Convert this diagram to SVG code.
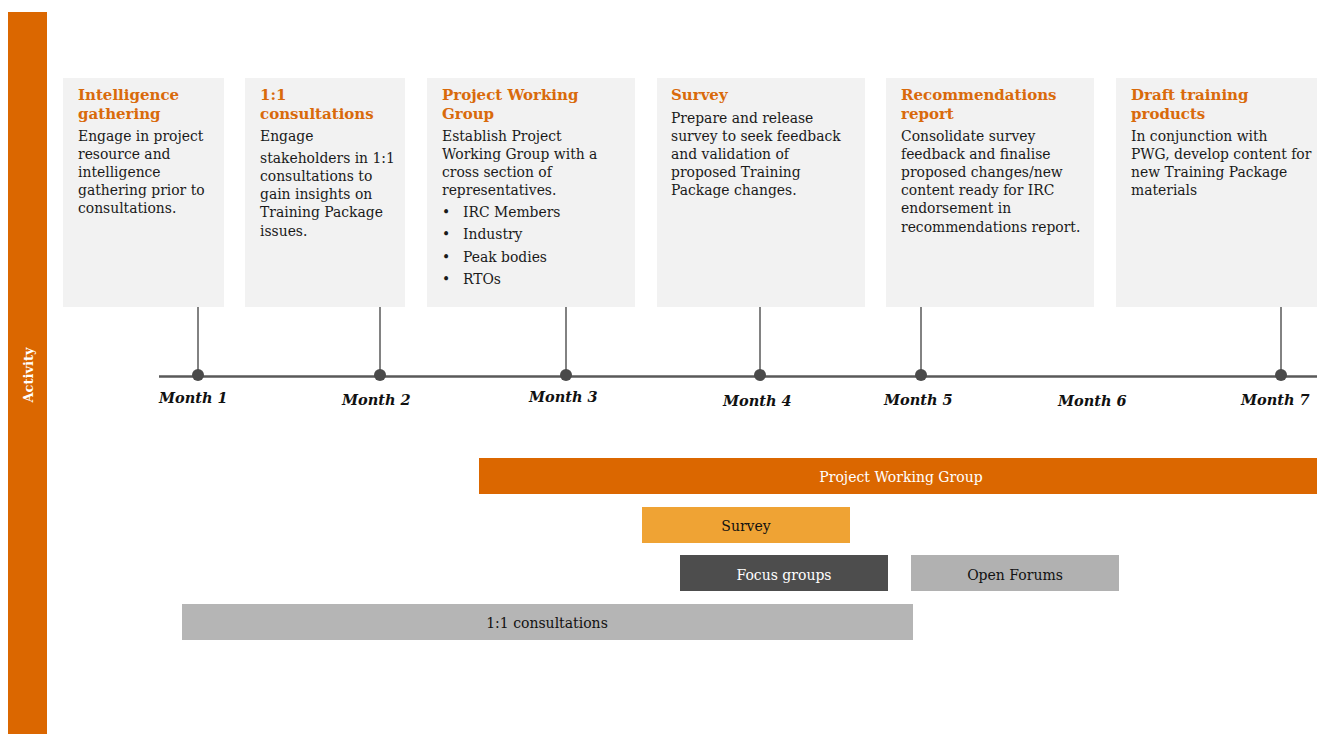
<svg xmlns="http://www.w3.org/2000/svg" width="1317" height="734" viewBox="0 0 1317 734">
<style>
.box{fill:#F2F2F2}
.ttl{font-family:"DejaVu Serif","Liberation Serif",serif;font-size:15px;font-weight:bold;fill:#D96A0B}
.body{font-family:"DejaVu Serif","Liberation Serif",serif;font-size:13.9px;fill:#1A1A1A}
.month{font-family:"DejaVu Serif","Liberation Serif",serif;font-size:14.5px;font-weight:bold;font-style:italic;fill:#111}
.bar{font-family:"DejaVu Serif","Liberation Serif",serif;font-size:14px;text-anchor:middle}
.tick{stroke:#595959;stroke-width:1.5}
.dot{fill:#4A4A4A}
</style>
<rect x="8" y="12" width="39" height="722" fill="#DB6700"/>
<text x="0" y="0" transform="translate(33,375) rotate(-90)" text-anchor="middle" font-family="DejaVu Serif,Liberation Serif,serif" font-size="13px" font-weight="bold" fill="#FFFFFF">Activity</text>

<g id="node-intelligence">
<rect class="box" x="63" y="78" width="161" height="229"/>
<text class="ttl" x="78" y="100">Intelligence</text>
<text class="ttl" x="78" y="119">gathering</text>
<text class="body" x="78" y="141">Engage in project</text>
<text class="body" x="78" y="159">resource and</text>
<text class="body" x="78" y="177">intelligence</text>
<text class="body" x="78" y="195">gathering prior to</text>
<text class="body" x="78" y="213">consultations.</text>
</g>
<g id="node-consultations">
<rect class="box" x="245" y="78" width="160" height="229"/>
<text class="ttl" x="260" y="100">1:1</text>
<text class="ttl" x="260" y="119">consultations</text>
<text class="body" x="260" y="141">Engage</text>
<text class="body" x="260" y="163">stakeholders in 1:1</text>
<text class="body" x="260" y="181">consultations to</text>
<text class="body" x="260" y="199">gain insights on</text>
<text class="body" x="260" y="217">Training Package</text>
<text class="body" x="260" y="236">issues.</text>
</g>
<g id="node-pwg">
<rect class="box" x="427" y="78" width="208" height="229"/>
<text class="ttl" x="442" y="100">Project Working</text>
<text class="ttl" x="442" y="119">Group</text>
<text class="body" x="442" y="141">Establish Project</text>
<text class="body" x="442" y="159">Working Group with a</text>
<text class="body" x="442" y="177">cross section of</text>
<text class="body" x="442" y="195">representatives.</text>
<text class="body" x="442" y="217">•</text><text class="body" x="463" y="217">IRC Members</text>
<text class="body" x="442" y="239">•</text><text class="body" x="463" y="239">Industry</text>
<text class="body" x="442" y="262">•</text><text class="body" x="463" y="262">Peak bodies</text>
<text class="body" x="442" y="284">•</text><text class="body" x="463" y="284">RTOs</text>
</g>
<g id="node-survey">
<rect class="box" x="657" y="78" width="208" height="229"/>
<text class="ttl" x="671" y="100">Survey</text>
<text class="body" x="671" y="123">Prepare and release</text>
<text class="body" x="671" y="141">survey to seek feedback</text>
<text class="body" x="671" y="159">and validation of</text>
<text class="body" x="671" y="177">proposed Training</text>
<text class="body" x="671" y="195">Package changes.</text>
</g>
<g id="node-recommendations">
<rect class="box" x="886" y="78" width="208" height="229"/>
<text class="ttl" x="901" y="100">Recommendations</text>
<text class="ttl" x="901" y="119">report</text>
<text class="body" x="901" y="141">Consolidate survey</text>
<text class="body" x="901" y="159">feedback and finalise</text>
<text class="body" x="901" y="177">proposed changes/new</text>
<text class="body" x="901" y="195">content ready for IRC</text>
<text class="body" x="901" y="213">endorsement in</text>
<text class="body" x="901" y="232">recommendations report.</text>
</g>
<g id="node-draft">
<rect class="box" x="1116" y="78" width="201" height="229"/>
<text class="ttl" x="1131" y="100">Draft training</text>
<text class="ttl" x="1131" y="119">products</text>
<text class="body" x="1131" y="141">In conjunction with</text>
<text class="body" x="1131" y="159">PWG, develop content for</text>
<text class="body" x="1131" y="177">new Training Package</text>
<text class="body" x="1131" y="195">materials</text>
</g>

<g id="connectors">
<line x1="159" y1="376.5" x2="1317" y2="376.5" stroke="#595959" stroke-width="2.5"/>
<line class="tick" x1="198" y1="307" x2="198" y2="376"/>
<line class="tick" x1="380" y1="307" x2="380" y2="376"/>
<line class="tick" x1="566" y1="307" x2="566" y2="376"/>
<line class="tick" x1="760" y1="307" x2="760" y2="376"/>
<line class="tick" x1="921" y1="307" x2="921" y2="376"/>
<line class="tick" x1="1281" y1="307" x2="1281" y2="376"/>
<circle class="dot" cx="198" cy="375" r="6"/>
<circle class="dot" cx="380" cy="375" r="6"/>
<circle class="dot" cx="566" cy="375" r="6"/>
<circle class="dot" cx="760" cy="375" r="6"/>
<circle class="dot" cx="921" cy="375" r="6"/>
<circle class="dot" cx="1281" cy="375" r="6"/>
</g>

<g id="months">
<text class="month" x="159" y="403">Month 1</text>
<text class="month" x="342" y="405">Month 2</text>
<text class="month" x="529" y="402">Month 3</text>
<text class="month" x="723" y="406">Month 4</text>
<text class="month" x="884" y="405">Month 5</text>
<text class="month" x="1058" y="406">Month 6</text>
<text class="month" x="1241" y="405">Month 7</text>
</g>

<g id="bar-pwg">
<rect x="479" y="458" width="838" height="36" fill="#DB6700"/>
<text class="bar" x="901" y="482" fill="#FFFFFF">Project Working Group</text>
</g>
<g id="bar-survey">
<rect x="642" y="507" width="208" height="36" fill="#EFA334"/>
<text class="bar" x="746" y="531" fill="#111">Survey</text>
</g>
<g id="bar-focus">
<rect x="680" y="555" width="208" height="36" fill="#4D4D4D"/>
<text class="bar" x="784" y="580" fill="#FFFFFF">Focus groups</text>
</g>
<g id="bar-forums">
<rect x="911" y="555" width="208" height="36" fill="#B1B1B1"/>
<text class="bar" x="1015" y="580" fill="#111">Open Forums</text>
</g>
<g id="bar-consult">
<rect x="182" y="604" width="731" height="36" fill="#B5B5B5"/>
<text class="bar" x="547" y="628" fill="#111">1:1 consultations</text>
</g>
</svg>
